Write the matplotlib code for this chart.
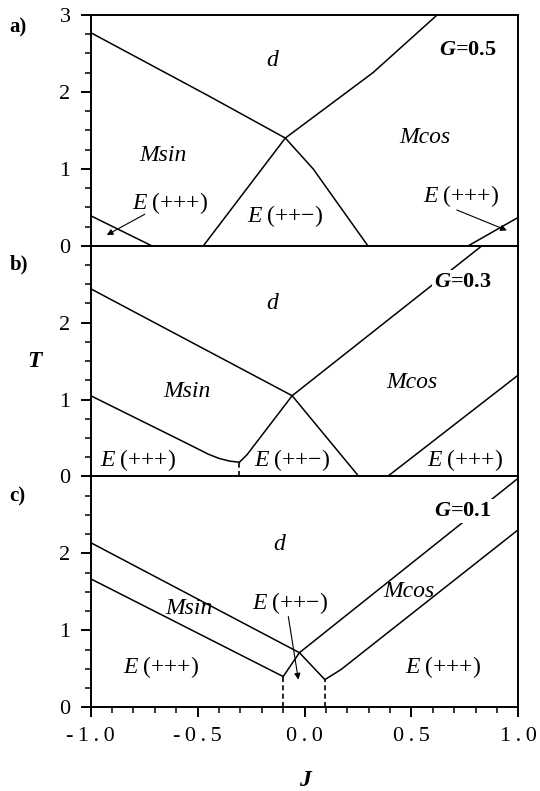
import matplotlib
matplotlib.use("Agg")
import matplotlib.pyplot as plt
from matplotlib.ticker import MultipleLocator, FixedLocator

plt.rcParams["font.family"] = ["Liberation Serif", "DejaVu Serif"]
plt.rcParams["mathtext.fontset"] = "custom"
plt.rcParams["mathtext.rm"] = "Liberation Serif"
plt.rcParams["mathtext.it"] = "Liberation Serif:italic"
plt.rcParams["mathtext.bf"] = "Liberation Serif:italic:bold"

# ---------------- phase boundaries T(J) ----------------
# (a) G = 0.5
a_dsin_J = [-1.0, -0.45, -0.09]
a_dsin_T = [2.77, 1.95, 1.40]
a_dcos_J = [-0.09, 0.32, 0.62]
a_dcos_T = [1.40, 2.25, 3.00]
a_sinE_J = [-0.09, -0.473]
a_sinE_T = [1.40, 0.0]
a_cosE_J = [-0.09, 0.04, 0.296]
a_cosE_T = [1.40, 1.00, 0.0]
a_left_J = [-1.0, -0.715]
a_left_T = [0.39, 0.0]
a_right_J = [0.766, 1.0]
a_right_T = [0.0, 0.37]

# (b) G = 0.3
b_dsin_J = [-1.0, -0.058]
b_dsin_T = [2.44, 1.05]
b_dcos_J = [-0.058, 0.83]
b_dcos_T = [1.05, 3.00]
b_sinE3_J = [-1.0, -0.55, -0.45, -0.40, -0.35, -0.305]
b_sinE3_T = [1.05, 0.43, 0.29, 0.235, 0.20, 0.185]
b_sinE2_J = [-0.305, -0.27, -0.058]
b_sinE2_T = [0.185, 0.28, 1.05]
b_cosE2_J = [-0.058, 0.254]
b_cosE2_T = [1.05, 0.0]
b_cosE3_J = [0.388, 1.0]
b_cosE3_T = [0.0, 1.32]
b_dash_J = [-0.305, -0.305]
b_dash_T = [0.0, 0.185]

# (c) G = 0.1
c_upper_J = [-1.0, -0.024, 0.095, 0.17, 1.0]
c_upper_T = [2.14, 0.71, 0.36, 0.49, 2.31]
c_lower_J = [-1.0, -0.10, -0.024, 1.0]
c_lower_T = [1.67, 0.40, 0.71, 2.98]
c_dash1_J = [-0.10, -0.10]
c_dash1_T = [0.0, 0.40]
c_dash2_J = [0.095, 0.095]
c_dash2_T = [0.0, 0.36]

panel_letters = ["a)", "b)", "c)"]
panel_G = ["0.5", "0.3", "0.1"]

x_major = [-1.0, -0.5, 0.0, 0.5, 1.0]
x_labels = ["-\u20091\u2009.\u20090", "-\u20090\u2009.\u20095", "0\u2009.\u20090",
            "0\u2009.\u20095", "1\u2009.\u20090"]

fig = plt.figure(figsize=(5.40, 7.91), dpi=100)
left, width, h = 0.168, 0.792, 0.2918
bottoms = [0.6893, 0.3976, 0.1058]
axes = [fig.add_axes([left, b, width, h]) for b in bottoms]

line_kw = dict(color="black", lw=1.1, solid_joinstyle="miter")
dash_kw = dict(color="black", lw=1.2, ls=(0, (3.0, 2.0)))
lab_kw = dict(fontsize=17, ha="center", va="center")
ital_kw = dict(fontsize=17, ha="center", va="center", style="italic")
arrow_kw = dict(arrowstyle="-|>", color="black", lw=0.8, mutation_scale=9,
                shrinkA=0, shrinkB=0)
g_kw = dict(fontsize=16, fontweight="bold", ha="center", va="center")
g_box = dict(facecolor="white", edgecolor="none", pad=1.5)

for i, ax in enumerate(axes):
    ax.set_xlim(-1.0, 1.0)
    ax.set_ylim(0.0, 3.0)
    for s in ax.spines.values():
        s.set_linewidth(1.4)
    ax.xaxis.set_major_locator(FixedLocator(x_major))
    ax.xaxis.set_minor_locator(MultipleLocator(0.1))
    ax.yaxis.set_major_locator(FixedLocator([0, 1, 2, 3] if i == 0 else [0, 1, 2]))
    ax.yaxis.set_minor_locator(MultipleLocator(0.25))
    ax.tick_params(which="major", direction="out", length=7.5, width=1.4,
                   labelsize=16, pad=7)
    ax.tick_params(which="minor", direction="out", length=4, width=1.1)
    ax.tick_params(top=False, right=False)
    if i < 2:
        ax.tick_params(labelbottom=False)
    else:
        ax.set_xticklabels(x_labels)
    ax.text(-0.19, [0.945, 0.917, 0.912][i], panel_letters[i],
            transform=ax.transAxes, fontsize=15, fontweight="bold",
            ha="left", va="center")

# (a)
ax = axes[0]
for J, T in [(a_dsin_J, a_dsin_T), (a_dcos_J, a_dcos_T), (a_sinE_J, a_sinE_T),
             (a_cosE_J, a_cosE_T), (a_left_J, a_left_T), (a_right_J, a_right_T)]:
    ax.plot(J, T, **line_kw)
ax.text(-0.15, 2.41, "d", **ital_kw)
ax.text(0.762, 2.55, r"$\mathbf{G}$=" + panel_G[0], **g_kw)
ax.text(0.565, 1.41, "Mcos", **ital_kw)
ax.text(-0.66, 1.17, "Msin", **ital_kw)
ax.text(-0.63, 0.56, "$E$\u2009(+++)", **lab_kw)
ax.text(-0.09, 0.39, "$E$\u2009(++\u2212)", **lab_kw)
ax.text(0.73, 0.65, "$E$\u2009(+++)", **lab_kw)
ax.annotate("", xy=(-0.925, 0.14), xytext=(-0.747, 0.41), arrowprops=arrow_kw)
ax.annotate("", xy=(0.946, 0.20), xytext=(0.712, 0.465), arrowprops=arrow_kw)

# (b)
ax = axes[1]
for J, T in [(b_dsin_J, b_dsin_T), (b_dcos_J, b_dcos_T), (b_sinE3_J, b_sinE3_T),
             (b_sinE2_J, b_sinE2_T), (b_cosE2_J, b_cosE2_T), (b_cosE3_J, b_cosE3_T)]:
    ax.plot(J, T, **line_kw)
ax.plot(b_dash_J, b_dash_T, **dash_kw)
ax.text(-0.15, 2.25, "d", **ital_kw)
ax.text(0.74, 2.53, r"$\mathbf{G}$=" + panel_G[1], bbox=g_box, **g_kw)
ax.text(-0.55, 1.11, "Msin", **ital_kw)
ax.text(0.50, 1.22, "Mcos", **ital_kw)
ax.text(-0.78, 0.22, "$E$\u2009(+++)", **lab_kw)
ax.text(-0.06, 0.22, "$E$\u2009(++\u2212)", **lab_kw)
ax.text(0.75, 0.22, "$E$\u2009(+++)", **lab_kw)
ax.set_ylabel("T", fontsize=17, fontweight="bold", style="italic",
              rotation=0, labelpad=18, va="center")

# (c)
ax = axes[2]
for J, T in [(c_upper_J, c_upper_T), (c_lower_J, c_lower_T)]:
    ax.plot(J, T, **line_kw)
ax.plot(c_dash1_J, c_dash1_T, **dash_kw)
ax.plot(c_dash2_J, c_dash2_T, **dash_kw)
ax.text(-0.12, 2.11, "d", **ital_kw)
ax.text(0.74, 2.55, r"$\mathbf{G}$=" + panel_G[2], bbox=g_box, **g_kw)
ax.text(-0.54, 1.28, "Msin", **ital_kw)
ax.text(0.49, 1.51, "Mcos", **ital_kw)
ax.text(-0.07, 1.36, "$E$\u2009(++\u2212)", **lab_kw)
ax.text(-0.67, 0.53, "$E$\u2009(+++)", **lab_kw)
ax.text(0.65, 0.53, "$E$\u2009(+++)", **lab_kw)
ax.annotate("", xy=(-0.029, 0.36), xytext=(-0.076, 1.18), arrowprops=arrow_kw)
ax.set_xlabel("J", fontsize=17, fontweight="bold", style="italic", labelpad=17)

fig.savefig("out.png", dpi=100)
